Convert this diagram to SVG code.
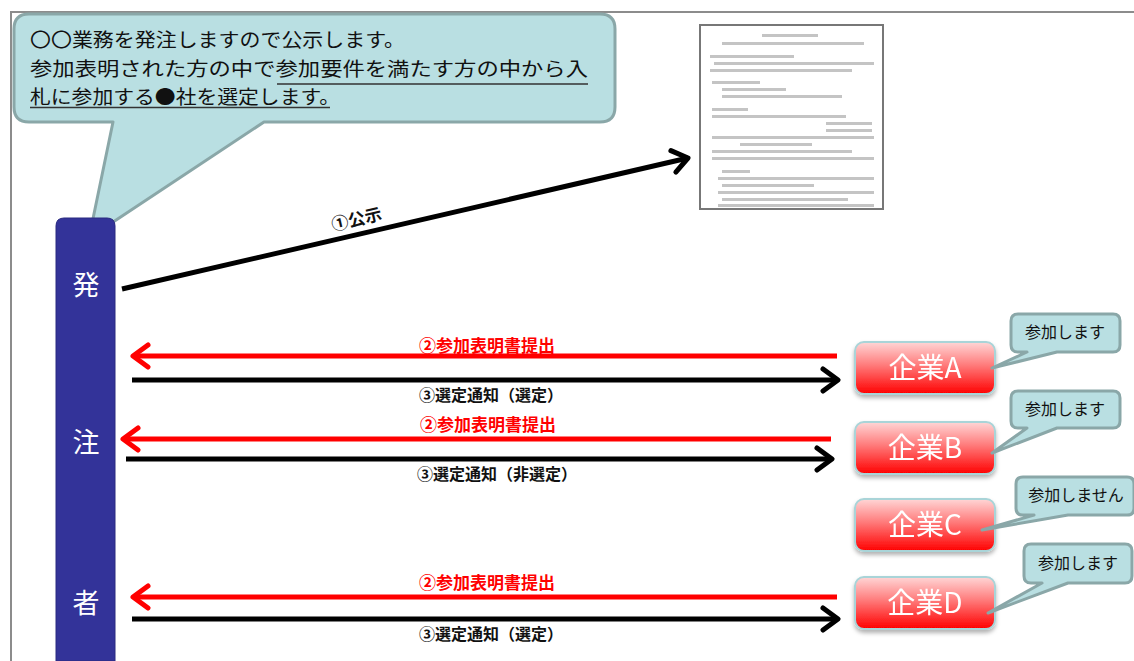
<svg xmlns="http://www.w3.org/2000/svg" width="1134" height="661" viewBox="0 0 1134 661">
<defs>
<style>
.jp{font-family:"Noto Sans CJK JP","Noto Sans CJK SC",sans-serif}
.callout{fill:#b9dfe2;stroke:#8aa7a8;stroke-width:3;stroke-linejoin:round}
.bubble{font-size:16px;fill:#111}
.co-rect{fill:url(#redGrad);stroke:#a9d4d8;stroke-width:2}
.co-text{font-size:28px;fill:#fff;text-anchor:middle}
.lbl-r{font-size:17px;font-weight:bold;fill:#ff0000;text-anchor:middle}
.lbl-k{font-size:16px;font-weight:bold;fill:#111;text-anchor:middle}
.ln-r{stroke:#ff0000;stroke-width:5;fill:none}
.ln-k{stroke:#000;stroke-width:5;fill:none}
.bar-t{font-size:27px;fill:#fff;text-anchor:middle}
.doc-l{fill:#c4c4c4}
.main-t{font-size:19px;fill:#111}
</style>
<linearGradient id="redGrad" x1="0" y1="0" x2="0" y2="1">
<stop offset="0" stop-color="#ffd6d6"/>
<stop offset="0.45" stop-color="#ff7a7a"/>
<stop offset="1" stop-color="#ff0000"/>
</linearGradient>
<filter id="sh" x="-10%" y="-10%" width="120%" height="140%">
<feDropShadow dx="0" dy="3" stdDeviation="2" flood-color="#000" flood-opacity="0.3"/>
</filter>
<marker id="arrK" viewBox="-4 -14 24 28" markerWidth="24" markerHeight="28" refX="15" refY="0" orient="auto" markerUnits="userSpaceOnUse">
<path d="M0,-11 L15,0 L0,11" fill="none" stroke="#000" stroke-width="5" stroke-linecap="round" stroke-linejoin="round"/>
</marker>
<marker id="arrR" viewBox="-4 -14 24 28" markerWidth="24" markerHeight="28" refX="15" refY="0" orient="auto" markerUnits="userSpaceOnUse">
<path d="M0,-11 L15,0 L0,11" fill="none" stroke="#ff0000" stroke-width="5" stroke-linecap="round" stroke-linejoin="round"/>
</marker>
</defs>
<rect width="1134" height="661" fill="#fff"/>
<!-- frame -->
<path d="M11,661 V12 H1134" fill="none" stroke="#8c8c8c" stroke-width="2"/>

<!-- main callout -->
<g id="main-callout">
<path class="callout" d="M29,14 H600 Q615,14 615,29 V107 Q615,122 600,122 H264 L89,238 L113,122 H29 Q14,122 14,107 V29 Q14,14 29,14 Z"/>
<text class="jp main-t" x="30" y="47" textLength="375" lengthAdjust="spacingAndGlyphs">〇〇業務を発注しますので公示します。</text>
<text class="jp main-t" x="30" y="76" textLength="558" lengthAdjust="spacingAndGlyphs">参加表明された方の中で参加要件を満たす方の中から入</text>
<text class="jp main-t" x="30" y="104" textLength="310" lengthAdjust="spacingAndGlyphs">札に参加する●社を選定します。</text>
<path d="M277,84 H588 M30,107.5 H330" stroke="#333" stroke-width="1.5"/>
</g>

<!-- orderer bar -->
<g id="orderer">
<path d="M64,218 H107 Q115,218 115,226 V661 H56 V226 Q56,218 64,218 Z" fill="#333399" stroke="#2a2a80" stroke-width="1"/>
<text class="jp bar-t" x="86" y="295">発</text>
<text class="jp bar-t" x="86" y="452">注</text>
<text class="jp bar-t" x="86" y="613">者</text>
</g>

<!-- document -->
<g id="document">
<rect x="700" y="25" width="183" height="184" fill="#fff" stroke="#777" stroke-width="2"/>
<rect class="doc-l" x="762" y="34" width="56" height="3"/>
<rect class="doc-l" x="722" y="42" width="142" height="3"/>
<rect class="doc-l" x="710" y="55" width="84" height="3"/>
<rect class="doc-l" x="714" y="62" width="160" height="3"/>
<rect class="doc-l" x="710" y="69" width="142" height="3"/>
<rect class="doc-l" x="712" y="81" width="48" height="3"/>
<rect class="doc-l" x="722" y="88" width="64" height="3"/>
<rect class="doc-l" x="722" y="95" width="120" height="3"/>
<rect class="doc-l" x="712" y="108" width="36" height="3"/>
<rect class="doc-l" x="712" y="115" width="134" height="3"/>
<rect class="doc-l" x="826" y="122" width="46" height="3"/>
<rect class="doc-l" x="826" y="129" width="46" height="3"/>
<rect class="doc-l" x="712" y="136" width="162" height="3"/>
<rect class="doc-l" x="740" y="143" width="72" height="3"/>
<rect class="doc-l" x="712" y="150" width="140" height="3"/>
<rect class="doc-l" x="712" y="157" width="162" height="3"/>
<rect class="doc-l" x="722" y="170" width="28" height="3"/>
<rect class="doc-l" x="718" y="177" width="156" height="3"/>
<rect class="doc-l" x="722" y="184" width="92" height="3"/>
<rect class="doc-l" x="718" y="191" width="156" height="3"/>
<rect class="doc-l" x="722" y="198" width="126" height="3"/>
<rect class="doc-l" x="718" y="204" width="156" height="3"/>
</g>

<!-- companies -->
<g id="company-a" filter="url(#sh)">
<rect class="co-rect" x="855" y="342" width="140" height="52" rx="9"/>
<text class="jp co-text" x="925" y="378">企業A</text>
</g>
<g id="company-b" filter="url(#sh)">
<rect class="co-rect" x="855" y="422" width="140" height="52" rx="9"/>
<text class="jp co-text" x="925" y="458">企業B</text>
</g>
<g id="company-c" filter="url(#sh)">
<rect class="co-rect" x="855" y="499" width="140" height="52" rx="9"/>
<text class="jp co-text" x="925" y="535">企業C</text>
</g>
<g id="company-d" filter="url(#sh)">
<rect class="co-rect" x="855" y="577" width="140" height="52" rx="9"/>
<text class="jp co-text" x="925" y="613">企業D</text>
</g>

<!-- small callouts -->
<g id="bubble-a">
<path class="callout" d="M1018,314 H1113 Q1120,314 1120,321 V345 Q1120,352 1113,352 H1057 L992,368 L1027,352 H1018 Q1011,352 1011,345 V321 Q1011,314 1018,314 Z"/>
<text class="jp bubble" x="1065" y="338" text-anchor="middle">参加します</text>
</g>
<g id="bubble-b">
<path class="callout" d="M1018,391 H1113 Q1120,391 1120,398 V421 Q1120,428 1113,428 H1057 L992,453 L1027,428 H1018 Q1011,428 1011,421 V398 Q1011,391 1018,391 Z"/>
<text class="jp bubble" x="1065" y="415" text-anchor="middle">参加します</text>
</g>
<g id="bubble-c">
<path class="callout" d="M1023,477 H1127 Q1134,477 1134,484 V508 Q1134,515 1127,515 H1068 L982,530 L1034,515 H1023 Q1016,515 1016,508 V484 Q1016,477 1023,477 Z"/>
<text class="jp bubble" x="1076" y="501" text-anchor="middle">参加しません</text>
</g>
<g id="bubble-d">
<path class="callout" d="M1031,544 H1125 Q1132,544 1132,551 V576 Q1132,583 1125,583 H1068 L988,613 L1042,583 H1031 Q1024,583 1024,576 V551 Q1024,544 1031,544 Z"/>
<text class="jp bubble" x="1078" y="569" text-anchor="middle">参加します</text>
</g>

<!-- connectors -->
<g id="connectors">
<line class="ln-k" x1="122" y1="289" x2="688" y2="158" marker-end="url(#arrK)"/>
<text class="jp" font-size="17" font-weight="bold" fill="#111" transform="translate(333,231) rotate(-13)">①公示</text>

<line class="ln-r" x1="837" y1="356" x2="133" y2="356" marker-end="url(#arrR)"/>
<text class="jp lbl-r" x="487" y="352">②参加表明書提出</text>
<line class="ln-k" x1="132" y1="380" x2="838" y2="380" marker-end="url(#arrK)"/>
<text class="jp lbl-k" x="491" y="401">③選定通知（選定）</text>

<line class="ln-r" x1="831" y1="439" x2="123" y2="439" marker-end="url(#arrR)"/>
<text class="jp lbl-r" x="488" y="431">②参加表明書提出</text>
<line class="ln-k" x1="126" y1="459" x2="832" y2="459" marker-end="url(#arrK)"/>
<text class="jp lbl-k" x="497" y="480">③選定通知（非選定）</text>

<line class="ln-r" x1="837" y1="597" x2="133" y2="597" marker-end="url(#arrR)"/>
<text class="jp lbl-r" x="487" y="589">②参加表明書提出</text>
<line class="ln-k" x1="132" y1="619" x2="838" y2="619" marker-end="url(#arrK)"/>
<text class="jp lbl-k" x="491" y="640">③選定通知（選定）</text>
</g>
</svg>
